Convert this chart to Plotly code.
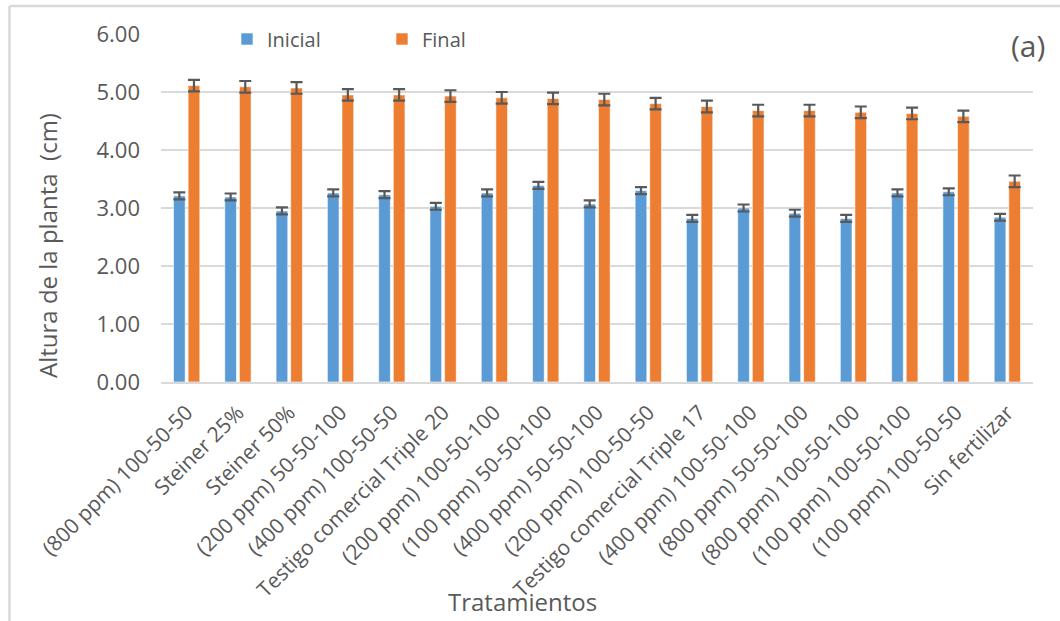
import plotly.graph_objects as go

# Treatments (x categories)
tratamientos = [
    "(800 ppm) 100-50-50",
    "Steiner 25%",
    "Steiner 50%",
    "(200 ppm) 50-50-100",
    "(400 ppm) 100-50-50",
    "Testigo comercial Triple 20",
    "(200 ppm) 100-50-100",
    "(100 ppm) 50-50-100",
    "(400 ppm) 50-50-100",
    "(200 ppm) 100-50-50",
    "Testigo comercial Triple 17",
    "(400 ppm) 100-50-100",
    "(800 ppm) 50-50-100",
    "(800 ppm) 100-50-100",
    "(100 ppm) 100-50-100",
    "(100 ppm) 100-50-50",
    "Sin fertilizar",
]

# Plant height (cm) at start and end
inicial = [3.21, 3.19, 2.95, 3.26, 3.23, 3.03, 3.26, 3.39, 3.07, 3.30,
           2.82, 3.00, 2.91, 2.82, 3.26, 3.28, 2.84]
final = [5.11, 5.09, 5.07, 4.95, 4.95, 4.93, 4.90, 4.89, 4.87, 4.80,
         4.75, 4.68, 4.68, 4.65, 4.63, 4.58, 3.46]

# Error bar half-widths
err_inicial = [0.06, 0.06, 0.06, 0.06, 0.06, 0.06, 0.06, 0.06, 0.06, 0.06,
               0.06, 0.06, 0.06, 0.06, 0.06, 0.06, 0.06]
err_final = [0.10, 0.10, 0.10, 0.10, 0.10, 0.10, 0.10, 0.10, 0.10, 0.10,
             0.10, 0.10, 0.10, 0.10, 0.10, 0.10, 0.10]

y_ticks = [0, 1, 2, 3, 4, 5, 6]

BLUE = "#5B9BD5"
ORANGE = "#ED7D31"
TEXT = "#595959"
GRID = "#D9D9D9"
ERR = "#595959"
FONT = "Open Sans"

W, H = 1060, 621
ML, MR, MT, MB = 161, 27, 34, 239
PW, PH = W - ML - MR, H - MT - MB


def px_x(x):
    return (x - ML) / PW


def px_y(y):
    return (H - MB - y) / PH


fig = go.Figure()
fig.add_trace(go.Bar(
    name="Inicial", x=tratamientos, y=inicial,
    marker=dict(color=BLUE, line=dict(color="rgba(255,255,255,0.6)", width=1)),
    error_y=dict(type="data", array=err_inicial, color=ERR, thickness=2.2, width=6),
))
fig.add_trace(go.Bar(
    name="Final", x=tratamientos, y=final,
    marker=dict(color=ORANGE, line=dict(color="rgba(255,255,255,0.6)", width=1)),
    error_y=dict(type="data", array=err_final, color=ERR, thickness=2.2, width=6),
))

fig.update_layout(
    width=W, height=H,
    margin=dict(l=ML, r=MR, t=MT, b=MB, pad=0),
    paper_bgcolor="white", plot_bgcolor="white",
    barmode="group", bargap=0.43, bargroupgap=0.2,
    font=dict(family=FONT, color=TEXT, size=20),
    showlegend=True,
    legend=dict(
        orientation="h", x=px_x(227), xanchor="left",
        y=px_y(39), yanchor="middle",
        entrywidth=110, entrywidthmode="pixels",
        font=dict(family=FONT, size=20, color=TEXT),
        bgcolor="rgba(0,0,0,0)", itemclick=False,
    ),
    xaxis=dict(
        tickangle=-45, showgrid=False, showline=True,
        linecolor=GRID, linewidth=2, ticks="",
        ticklabelstandoff=8,
        tickfont=dict(family=FONT, size=21, color=TEXT),
    ),
    yaxis=dict(
        range=[0, 6], tickvals=y_ticks,
        ticktext=[f"{v:.2f}" for v in y_ticks],
        showgrid=True, gridcolor=GRID, gridwidth=2,
        zeroline=False, showline=False, ticks="",
        ticklabelstandoff=20,
        tickfont=dict(family=FONT, size=22, color=TEXT),
    ),
    annotations=[
        dict(text="Altura de la planta  (cm)", textangle=-90,
             xref="paper", yref="paper", x=px_x(47), y=px_y(246),
             xanchor="center", yanchor="middle", showarrow=False,
             font=dict(family=FONT, size=24, color=TEXT)),
        dict(text="Tratamientos",
             xref="paper", yref="paper", x=px_x(522), y=px_y(601),
             xanchor="center", yanchor="middle", showarrow=False,
             font=dict(family=FONT, size=24, color=TEXT)),
        dict(text="(a)",
             xref="paper", yref="paper", x=px_x(1047), y=px_y(46),
             xanchor="right", yanchor="middle", showarrow=False,
             font=dict(family=FONT, size=30, color=TEXT)),
    ],
    shapes=[
        # chart frame: top and left edges
        dict(type="line", xref="paper", yref="paper",
             x0=px_x(9.5), x1=px_x(1062), y0=px_y(6), y1=px_y(6),
             line=dict(color=GRID, width=2.5)),
        dict(type="line", xref="paper", yref="paper",
             x0=px_x(9.5), x1=px_x(9.5), y0=px_y(6), y1=px_y(623),
             line=dict(color=GRID, width=2.5)),
    ],
)

fig.write_html("out.html")
